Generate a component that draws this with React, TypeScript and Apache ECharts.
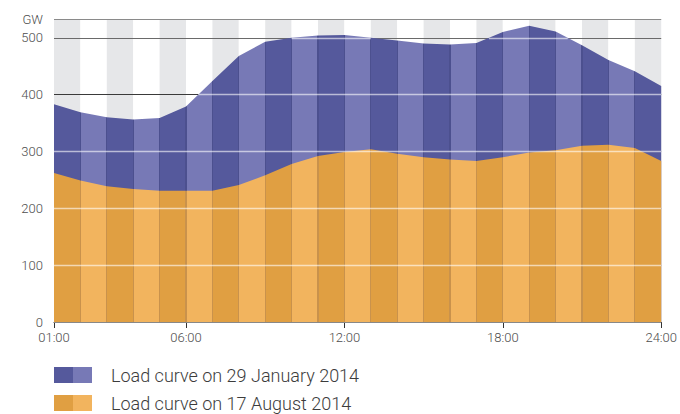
import React, { useEffect, useRef } from "react";
import * as echarts from "echarts";

const hours = [
  "01:00", "02:00", "03:00", "04:00", "05:00", "06:00", "07:00", "08:00",
  "09:00", "10:00", "11:00", "12:00", "13:00", "14:00", "15:00", "16:00",
  "17:00", "18:00", "19:00", "20:00", "21:00", "22:00", "23:00", "24:00",
];
const labelledHours = ["01:00", "06:00", "12:00", "18:00", "24:00"];
const january = [383, 369, 360, 356, 359, 379, 424, 468, 493, 500, 504, 505, 500, 495, 490, 488, 491, 510, 521, 511, 487, 461, 441, 415];
const august = [262, 249, 239, 234, 231, 231, 231, 241, 258, 278, 292, 299, 304, 296, 290, 286, 283, 290, 298, 302, 310, 312, 306, 283];
const seriesNames = ["Load curve on 29 January 2014", "Load curve on 17 August 2014"];
const gridLevels = [100, 200, 300, 400, 500];
const Y_MAX = 533;
const UNIT = "GW";

const BLUE = ["#55599c", "#7779b6", "#4c508f"];
const ORANGE = ["#e09f42", "#f2b45e", "#c9924c"];
const BG = ["#e6e7e9", "#ffffff"];

function stripes(colors: string[], n: number, plotWidth: number) {
  const stops: { offset: number; color: string }[] = [];
  const h = 0.6 / plotWidth;
  for (let k = 0; k < n; k++) {
    const c = colors[k % 2];
    const s = k / n;
    const e = (k + 1) / n;
    if (k > 0) {
      stops.push({ offset: s, color: colors[2] });
      stops.push({ offset: s + h, color: colors[2] });
      stops.push({ offset: s + h, color: c });
    } else {
      stops.push({ offset: s, color: c });
    }
    if (k < n - 1) {
      stops.push({ offset: e - h, color: c });
      stops.push({ offset: e - h, color: colors[2] });
    } else {
      stops.push({ offset: e, color: c });
    }
  }
  return { type: "linear", x: 0, y: 0, x2: 1, y2: 0, colorStops: stops };
}

function halves(colors: string[]) {
  return {
    type: "linear", x: 0, y: 0, x2: 1, y2: 0,
    colorStops: [
      { offset: 0, color: colors[0] },
      { offset: 0.5, color: colors[0] },
      { offset: 0.5, color: colors[1] },
      { offset: 1, color: colors[1] },
    ],
  };
}

// segments of each grid level lying inside the (upper) area
function insideSegments(values: number[], levels: number[]) {
  const out: { coords: number[][] }[] = [];
  levels.forEach((v) => {
    let start: number | null = null;
    for (let i = 0; i < values.length - 1; i++) {
      const a = values[i];
      const b = values[i + 1];
      let s: number | null = null;
      let e: number | null = null;
      if (a >= v && b >= v) { s = i; e = i + 1; }
      else if (a >= v && b < v) { s = i; e = i + (a - v) / (a - b); }
      else if (a < v && b >= v) { s = i + (v - a) / (b - a); e = i + 1; }
      if (s !== null && e !== null) {
        if (start === null) start = s;
        if (e < i + 1 || i === values.length - 2) {
          out.push({ coords: [[start, v], [e, v]] });
          start = null;
        }
      } else if (start !== null) {
        out.push({ coords: [[start, v], [i, v]] });
        start = null;
      }
    }
  });
  return out;
}

export default function App() {
  const ref = useRef<HTMLDivElement>(null);
  useEffect(() => {
    document.body.style.margin = "0";
    if (!ref.current) return;
    const chart = echarts.init(ref.current, null, { renderer: "svg" });
    const n = hours.length - 1;
    const plotWidth = 612;
    const font = "Roboto, 'Liberation Sans', sans-serif";
    chart.setOption({
      animation: false,
      grid: { left: 54, right: 14, top: 19, bottom: 92 },
      legend: {
        orient: "vertical",
        left: 54,
        top: 366,
        height: 60,
        padding: 0,
        icon: "rect",
        itemWidth: 38,
        itemHeight: 16,
        itemGap: 10,
        selectedMode: false,
        itemStyle: { borderWidth: 0 },
        lineStyle: { width: 0 },
        textStyle: { fontSize: 18, color: "#3c3c3c", fontFamily: font, fontWeight: 300, padding: [0, 0, 0, 14] },
        data: [
          { name: seriesNames[0], itemStyle: { color: halves(BLUE) } },
          { name: seriesNames[1], itemStyle: { color: halves(ORANGE) } },
        ],
      },
      xAxis: [
        {
          type: "category",
          data: hours,
          boundaryGap: false,
          z: 0,
          axisLine: { show: true, lineStyle: { color: "#333", width: 1 } },
          axisTick: {
            show: true,
            length: 6,
            interval: (i: number) => labelledHours.includes(hours[i]),
            lineStyle: { color: "#333" },
          },
          axisLabel: {
            interval: (i: number) => labelledHours.includes(hours[i]),
            color: "#4d4d4d",
            fontSize: 13,
            fontFamily: font,
            fontWeight: 300,
            margin: 9,
          },
          splitLine: { show: false },
          splitArea: { show: true, interval: 0, areaStyle: { color: BG } },
        },
        { type: "value", min: 0, max: n, show: false },
      ],
      yAxis: {
        type: "value",
        min: 0,
        max: Y_MAX,
        interval: 100,
        z: 1,
        axisLine: { show: false },
        axisTick: { show: false },
        axisLabel: {
          showMaxLabel: true,
          formatter: (v: number) => (v === Y_MAX ? UNIT : String(v)),
          color: "#4d4d4d",
          fontSize: 13,
          fontFamily: font,
          fontWeight: 300,
          margin: 11,
        },
        splitLine: {
          show: true,
          lineStyle: {
            color: ["#888", "#888", "#888", "#888", "#3a3a3a", "#6a6a6a", "#8a8a8a"],
            width: 1.2,
          },
        },
      },
      series: [
        {
          name: seriesNames[0],
          type: "line",
          data: january,
          showSymbol: false,
          symbol: "none",
          lineStyle: { width: 0 },
          itemStyle: { color: BLUE[0] },
          areaStyle: { color: stripes(BLUE, n, plotWidth), opacity: 1 },
          z: 2,
        },
        {
          name: seriesNames[1],
          type: "line",
          data: august,
          showSymbol: false,
          symbol: "none",
          lineStyle: { width: 0 },
          itemStyle: { color: ORANGE[0] },
          areaStyle: { color: stripes(ORANGE, n, plotWidth), opacity: 1 },
          z: 3,
        },
        {
          type: "lines",
          coordinateSystem: "cartesian2d",
          xAxisIndex: 1,
          yAxisIndex: 0,
          silent: true,
          lineStyle: { color: "#ffffff", width: 1.3, opacity: 0.6, type: "solid" },
          data: insideSegments(january, gridLevels),
          z: 4,
        },
      ],
    });
    return () => chart.dispose();
  }, []);
  return <div ref={ref} style={{ width: 680, height: 414 }} />;
}
